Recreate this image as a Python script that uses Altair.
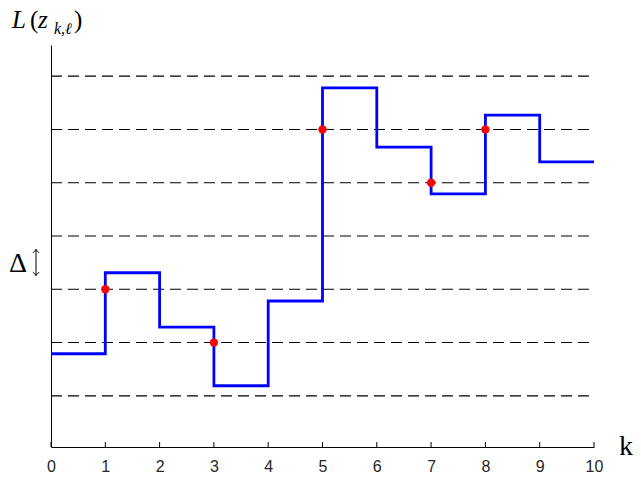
import altair as alt
import pandas as pd

# data
k_vals = list(range(11))
L_vals = [1.79, 3.31, 2.29, 1.19, 2.78, 6.78, 5.67, 4.79, 6.27, 5.39, 5.39]
levels = [1, 2, 3, 4, 5, 6, 7]
pt_k = [1, 3, 5, 7, 8]
pt_L = [3, 2, 6, 5, 6]
tick_k = list(range(11))

step_df = pd.DataFrame({"k": k_vals, "L": L_vals})
lev_df = pd.DataFrame({"lev": levels})
pt_df = pd.DataFrame({"k": pt_k, "L": pt_L})
tick_df = pd.DataFrame({"k": tick_k})

xs = alt.Scale(domain=[0, 10], nice=False)
ys = alt.Scale(domain=[0.04, 7.585], nice=False)

xaxis = alt.Axis(values=tick_k, tickSize=0, labelFontSize=16, labelFont="Liberation Sans",
                 labelColor="#262626", labelPadding=11, title=None, grid=False,
                 domainColor="black", labelAngle=0, labelFlush=False)
yaxis = alt.Axis(labels=False, ticks=False, title=None, grid=False, domainColor="black")

base_x = alt.X("k:Q", scale=xs, axis=xaxis)

dashes = alt.Chart(lev_df).mark_rule(color="black", strokeDash=[11, 6], strokeWidth=1.1).encode(
    y=alt.Y("lev:Q", scale=ys, axis=yaxis),
    x=alt.value(0), x2=alt.value(543))

line = alt.Chart(step_df).mark_line(interpolate="step-after", color="#0000FF", strokeWidth=2.8).encode(
    x=base_x, y=alt.Y("L:Q", scale=ys, axis=yaxis))

pts = alt.Chart(pt_df).mark_point(filled=True, color="#FF0000", size=70, opacity=1).encode(
    x=alt.X("k:Q", scale=xs, axis=xaxis), y=alt.Y("L:Q", scale=ys, axis=yaxis))

ticks = alt.Chart(tick_df).mark_rule(color="black", strokeWidth=1).encode(
    x=alt.X("k:Q", scale=xs, axis=xaxis), y=alt.value(402), y2=alt.value(397))

def txt(s, x, y, size, style="normal", font="Liberation Serif"):
    return alt.Chart(pd.DataFrame({"t": [s]})).mark_text(
        text=s, fontSize=size, fontStyle=style, font=font, align="left",
        baseline="alphabetic", color="black").encode(x=alt.value(x), y=alt.value(y))

# double-headed arrow next to Delta
arrow_shaft = alt.Chart(pd.DataFrame({"a": [0]})).mark_rule(color="black", strokeWidth=1).encode(
    x=alt.value(-15), y=alt.value(204), y2=alt.value(231))
arrow_up = alt.Chart(pd.DataFrame({"a": [0]})).mark_point(
    shape="M-1,0.6L0,-0.4L1,0.6", filled=False, color="black", strokeWidth=1, size=40, opacity=1).encode(
    x=alt.value(-15), y=alt.value(206))
arrow_dn = alt.Chart(pd.DataFrame({"a": [0]})).mark_point(
    shape="M-1,-0.6L0,0.4L1,-0.6", filled=False, color="black", strokeWidth=1, size=40, opacity=1).encode(
    x=alt.value(-15), y=alt.value(229))

labels = [
    txt("L", -39, -17, 25, "italic"),
    txt("(", -21, -17, 25),
    txt("z", -13, -17, 25, "italic"),
    txt("k,ℓ", 3, -11, 16, "italic"),
    txt(")", 23, -17, 25),
    txt("Δ", -42, 227, 28),
    arrow_shaft, arrow_up, arrow_dn,
    txt("k", 568, 410, 28),
]

chart = alt.layer(dashes, line, pts, ticks, *labels).properties(
    width=543, height=402,
    autosize=alt.AutoSizeParams(type="none"),
    padding={"left": 43, "top": 37, "right": 39, "bottom": 41},
).configure_view(stroke=None)

chart.save("out.html", embed_options={"renderer": "svg", "actions": False})
